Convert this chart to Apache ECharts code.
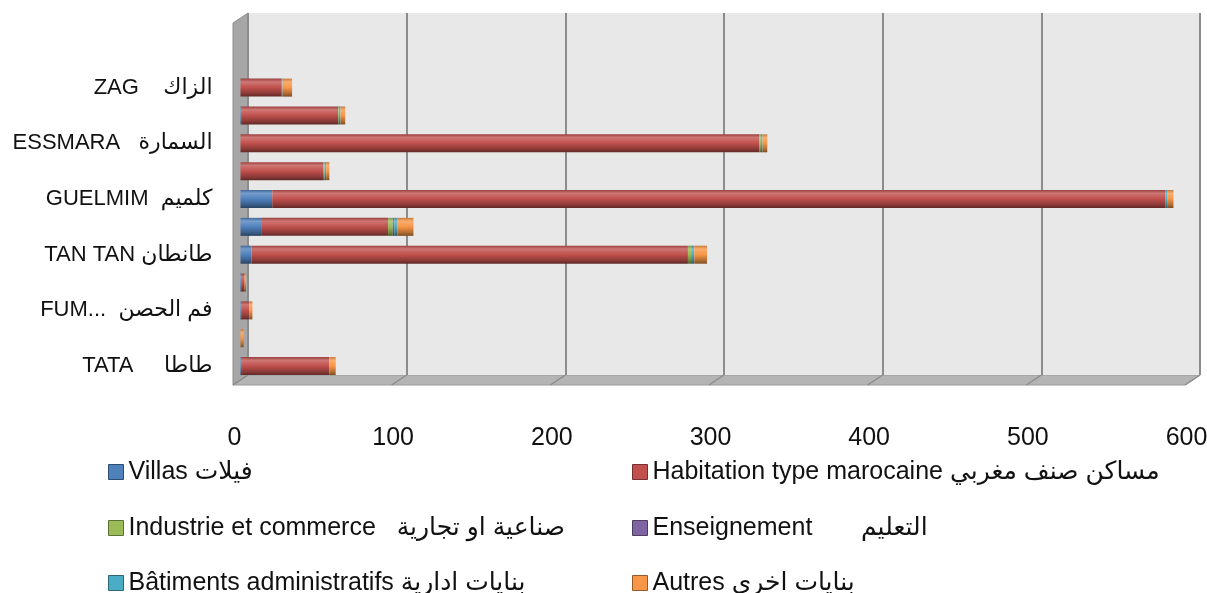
<!DOCTYPE html>
<html>
<head>
<meta charset="utf-8">
<script src="https://cdn.jsdelivr.net/npm/echarts@6/dist/echarts.min.js"></script>
<style>
  html, body { margin: 0; padding: 0; background: #fff; }
  #chart { width: 1207px; height: 593px; }
</style>
</head>
<body>
<div id="chart"></div>
<script>
// categories from bottom to top (only every other one is labelled in the source)
const categories = ['TATA     طاطا', '', 'FUM...  فم الحصن', '', 'TAN TAN طانطان', '', 'GUELMIM  كلميم', '', 'ESSMARA   السمارة', '', 'ZAG    الزاك', '', ''];

const seriesNames = [
  'Villas فيلات',
  'Habitation type marocaine مساكن صنف مغربي',
  'Industrie et commerce   صناعية او تجارية',
  'Enseignement       التعليم',
  'Bâtiments administratifs بنايات ادارية',
  'Autres بنايات اخرى'
];

const villas       = [1, 0, 0.5, 0.5, 7, 13, 20, 0, 0, 0.5, 0, 0, 0];
const habitation   = [55, 0, 5, 2, 275, 80, 563, 52, 327, 61, 26, 0, 0];
const industrie    = [0, 0, 0, 0, 2, 3, 0, 1, 1, 0.5, 0, 0, 0];
const enseignement = [0, 0, 0, 0, 0, 1, 0, 0, 0, 0, 0, 0, 0];
const batiments    = [0, 0, 0, 0, 2, 2, 1, 1, 1, 1, 0.5, 0, 0];
const autres       = [4, 2, 2, 1, 8, 10, 4, 2, 3, 3, 6, 0, 0];

const xTicks = [0, 100, 200, 300, 400, 500, 600];

const colors = ['#4F81BD', '#C0504D', '#9BBB59', '#8064A2', '#4BACC6', '#F79646'];
const FONT = "'Liberation Sans', 'DejaVu Sans', sans-serif";

// 3d box: back wall grid, bars sit half way in depth
const W = 1207, H = 593;
const back = { left: 248, right: 7, top: 13, bottom: 218 };
const depth = { dx: -15, dy: 10 };
const mid = {
  left: back.left + depth.dx / 2,
  right: back.right - depth.dx / 2,
  top: back.top + depth.dy / 2,
  bottom: back.bottom - depth.dy / 2
};

function shade(hex, t) {
  const n = parseInt(hex.slice(1), 16);
  let rgb = [(n >> 16) & 255, (n >> 8) & 255, n & 255];
  rgb = rgb.map(v => Math.round(t > 0 ? v + (255 - v) * t : v * (1 + t)));
  return 'rgb(' + rgb.join(',') + ')';
}
function cyl(c) {
  return new echarts.graphic.LinearGradient(0, 0, 0, 1, [
    { offset: 0, color: shade(c, -0.2) },
    { offset: 0.18, color: shade(c, 0.22) },
    { offset: 0.5, color: c },
    { offset: 0.82, color: shade(c, -0.28) },
    { offset: 1, color: shade(c, -0.5) }
  ]);
}

const chart = echarts.init(document.getElementById('chart'));

// walls and floor
const bx0 = back.left, bx1 = W - back.right, by0 = back.top, by1 = H - back.bottom;
const walls = [
  {
    type: 'polygon', z: -10, silent: true,
    shape: { points: [[bx0, by0], [bx0, by1], [bx0 + depth.dx, by1 + depth.dy], [bx0 + depth.dx, by0 + depth.dy]] },
    style: { fill: '#a6a6a6', stroke: '#8c8c8c', lineWidth: 1 }
  },
  {
    type: 'polygon', z: -10, silent: true,
    shape: { points: [[bx0, by1], [bx1, by1], [bx1 + depth.dx, by1 + depth.dy], [bx0 + depth.dx, by1 + depth.dy]] },
    style: { fill: '#b4b4b4', stroke: '#9a9a9a', lineWidth: 1 }
  }
];
xTicks.forEach(v => {
  const x = bx0 + (bx1 - bx0) * v / xTicks[xTicks.length - 1];
  walls.push({
    type: 'line', z: -9, silent: true,
    shape: { x1: x, y1: by1, x2: x + depth.dx, y2: by1 + depth.dy },
    style: { stroke: '#8c8c8c', lineWidth: 1.5 }
  });
});

const series = [villas, habitation, industrie, enseignement, batiments, autres].map((d, i) => ({
  name: seriesNames[i],
  type: 'bar',
  stack: 'total',
  xAxisIndex: 1,
  yAxisIndex: 1,
  barWidth: 18,
  data: d,
  itemStyle: { color: cyl(colors[i]) }
}));

// legend: 3 rows x 2 columns, one legend per entry
const legendCols = [103, 627];
const legendRows = [454, 510, 565];
const legends = seriesNames.map((name, i) => ({
  left: legendCols[i % 2],
  top: legendRows[Math.floor(i / 2)],
  itemWidth: 15,
  itemHeight: 15,
  icon: 'rect',
  data: [{ name: name, itemStyle: { color: colors[i], borderColor: shade(colors[i], -0.4), borderWidth: 1 } }],
  textStyle: { fontFamily: FONT, fontSize: 25, lineHeight: 26, color: '#111' }
}));

chart.setOption({
  animation: false,
  color: colors,
  graphic: walls,
  legend: legends,
  grid: [
    { left: back.left, right: back.right, top: back.top, bottom: back.bottom, show: true, backgroundColor: '#e8e8e8', borderWidth: 0, outerBoundsMode: 'none', containLabel: false },
    { left: mid.left, right: mid.right, top: mid.top, bottom: mid.bottom, outerBoundsMode: 'none', containLabel: false }
  ],
  xAxis: [
    {
      gridIndex: 0, type: 'value', min: 0, max: 600, interval: 100,
      axisLabel: { show: false }, axisLine: { show: false }, axisTick: { show: false },
      splitLine: { show: true, lineStyle: { color: '#8c8c8c', width: 2 } }
    },
    {
      gridIndex: 1, type: 'value', min: 0, max: 600, interval: 100,
      axisLine: { show: false }, axisTick: { show: false }, splitLine: { show: false },
      axisLabel: { margin: 46, padding: [0, 12, 0, 0], fontFamily: FONT, fontSize: 25, color: '#111' }
    }
  ],
  yAxis: [
    { gridIndex: 0, type: 'category', data: categories, show: false },
    {
      gridIndex: 1, type: 'category', data: categories,
      axisLine: { show: false }, axisTick: { show: false },
      axisLabel: { interval: 0, margin: 28, fontFamily: FONT, fontSize: 22, color: '#111' }
    }
  ],
  series: series
});
</script>
</body>
</html>
